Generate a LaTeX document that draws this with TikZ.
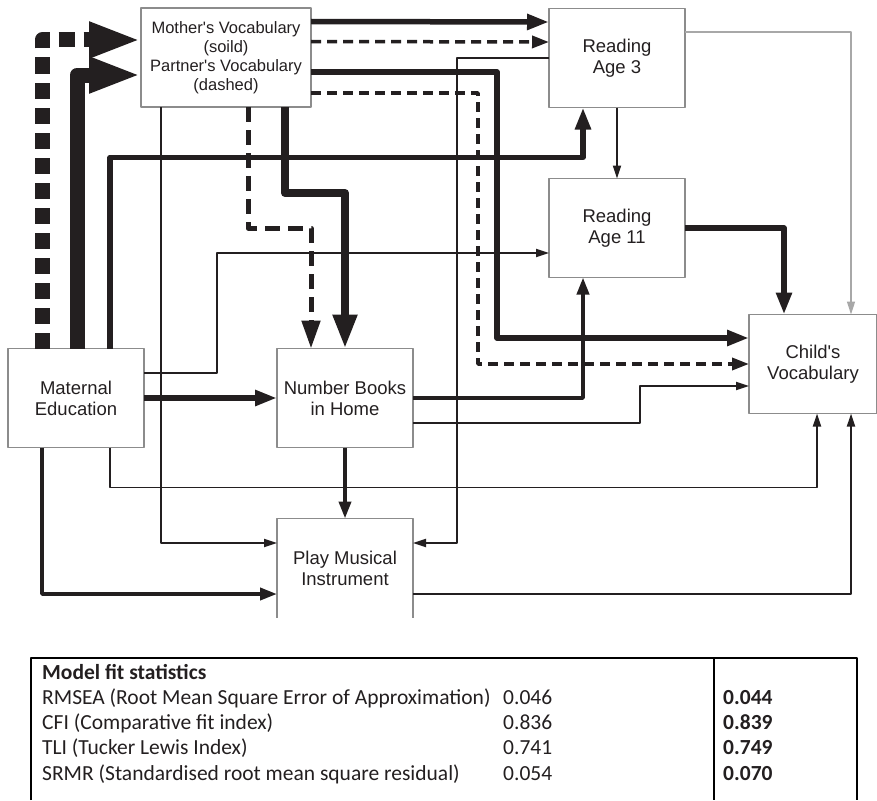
\documentclass[tikz,border=0pt]{standalone}
\usepackage{fontspec}
\setmainfont{Liberation Sans}
\newfontfamily\tablefont{Carlito}
\usetikzlibrary{arrows.meta}
\definecolor{ink}{HTML}{231F20}
\definecolor{boxgray}{HTML}{8C8C8C}
\definecolor{lightink}{HTML}{A8A8A8}
\begin{document}
\begin{tikzpicture}[x=1pt,y=-1pt,line join=round]
        \tikzstyle{var}=[draw=boxgray, line width=1.3pt, minimum width=136pt, minimum height=99pt, inner sep=0pt, outer sep=0pt, align=center, text=ink, font=\fontsize{18.5}{21}\selectfont]
        \tikzstyle{thinarr}=[draw=ink, line width=1.8pt, -{Triangle[length=13pt,width=8pt]}]
        \tikzstyle{medarr}=[draw=ink, line width=3.8pt, -{Triangle[length=17pt,width=12pt]}]
        \tikzstyle{boldarr}=[draw=ink, line width=5.5pt, -{Triangle[length=22pt,width=15pt]}]
        \tikzstyle{dasharr}=[draw=ink, line width=3.5pt, dash pattern=on 10pt off 6pt, -{Triangle[length=17pt,width=12pt]}]
        \tikzstyle{heavyarr}=[draw=ink, line width=8pt, -{Triangle[length=34pt,width=23pt]}]
        \tikzstyle{heavydash}=[draw=ink, line width=5pt, dash pattern=on 15pt off 8pt, -{Triangle[length=28pt,width=18pt]}]
        \tikzstyle{hugearr}=[draw=ink, line width=15pt, -{Triangle[length=52pt,width=33pt]}]
        \tikzstyle{stat}=[anchor=base west, inner sep=0pt, text=ink, font=\tablefont\fontsize{21.5}{25}\selectfont]
        \useasboundingbox (0,0) rectangle (877,800);
        \node[var, minimum width=170pt, font=\fontsize{16.5}{19}\selectfont] (mv) at (226,57.5) {Mother\textquotesingle s Vocabulary\\(soild)\\Partner\textquotesingle s Vocabulary\\(dashed)};
        \node[var] (ra3) at (617,58) {Reading\\Age 3};
        \node[var] (ra11) at (617,228) {Reading\\Age 11};
        \node[var, minimum width=128pt] (cv) at (813,364) {Child\textquotesingle s\\Vocabulary};
        \node[var] (me) at (76,398) {Maternal\\Education};
        \node[var] (nb) at (345,398) {Number Books\\in Home};
        \node[var, draw=none] (pmi) at (345,568) {Play Musical\\Instrument};
        \draw[draw=boxgray, line width=1.3pt] (pmi.south west) -- (pmi.north west) -- (pmi.north east) -- (pmi.south east);
        \draw[hugearr, dash pattern=on 16pt off 9pt] ([xshift=34pt]me.north west) |- ([yshift=17.5pt]mv.west);
        \draw[hugearr] ([xshift=69pt]me.north west) |- ([yshift=-17.5pt]mv.west);
        \draw[boldarr] ([xshift=34pt]me.north) -- ++(0,-191) -| ([xshift=-34pt]ra3.south);
        \draw[thinarr] ([yshift=25pt]me.east) -- ++(73,0) |- ([yshift=-25pt]ra11.west);
        \draw[boldarr] (me.east) -- (nb.west);
        \draw[thinarr] ([xshift=34pt]me.south) -- ++(0,40) -| ([xshift=4pt]cv.south);
        \draw[medarr] ([xshift=-34pt]me.south) |- ([yshift=-26pt]pmi.west);
        \draw[boldarr] ([yshift=36pt]mv.east) -- ([yshift=36pt]ra3.west);
        \draw[dasharr] ([yshift=16pt]mv.east) -- ([yshift=16pt]ra3.west);
        \draw[boldarr] ([yshift=-14.5pt]mv.east) -- ++(186,0) |- ([yshift=26pt]cv.west);
        \draw[dasharr] ([yshift=-35.5pt]mv.east) -- ++(167,0) |- (cv.west);
        \draw[heavyarr] ([xshift=59pt]mv.south) -- ++(0,86) -| (nb.north);
        \draw[heavydash] ([xshift=22pt]mv.south) -- ++(0,121) -| ([xshift=-34pt]nb.north);
        \draw[thinarr] ([xshift=-65pt]mv.south) |- ([yshift=25pt]pmi.west);
        \draw[thinarr] (ra3.west) -- ++(-92,0) |- ([yshift=25pt]pmi.east);
        \draw[thinarr] (ra3.south) -- (ra11.north);
        \draw[thinarr, draw=lightink, line width=1.5pt] ([yshift=26pt]ra3.east) -| ([xshift=38pt]cv.north);
        \draw[boldarr] (ra11.east) -| ([xshift=-29pt]cv.north);
        \draw[medarr] (nb.east) -| ([xshift=-34pt]ra11.south);
        \draw[thinarr] ([yshift=-25pt]nb.east) -- ++(227,0) |- ([yshift=-22pt]cv.west);
        \draw[medarr] (nb.south) -- (pmi.north);
        \draw[thinarr] ([yshift=-26pt]pmi.east) -| ([xshift=38pt]cv.south);
        \draw[line width=1.2pt] (31,800) |- (857,658) -- (857,800);
        \draw[line width=1.2pt] (714,658) -- (714,800);
        \node[stat, font=\tablefont\bfseries\fontsize{21.5}{25}\selectfont] (fit-head) at (42,679) {Model fit statistics};
        \foreach \lab/\val/\best [count=\i] in {{RMSEA (Root Mean Square Error of Approximation)}/{0.046}/{0.044}, {CFI (Comparative fit index)}/{0.836}/{0.839}, {TLI (Tucker Lewis Index)}/{0.741}/{0.749}, {SRMR (Standardised root mean square residual)}/{0.054}/{0.070}}
        {
            \node[stat] (fit-lab-\i) at (42,679+25.3*\i) {\lab};
            \node[stat] (fit-val-\i) at (503,679+25.3*\i) {\val};
            \node[stat, font=\tablefont\bfseries\fontsize{21.5}{25}\selectfont] (fit-best-\i) at (723,679+25.3*\i) {\best};
        }
\end{tikzpicture}
\end{document}
